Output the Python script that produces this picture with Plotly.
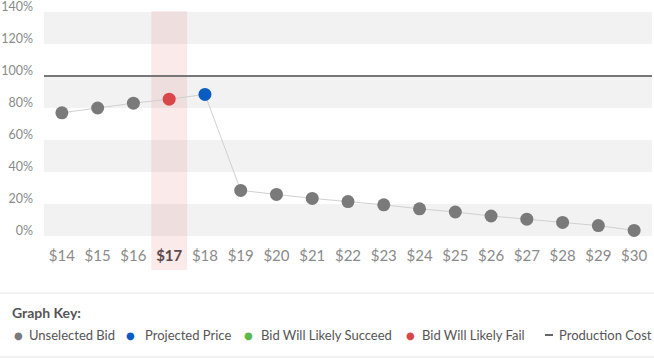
import plotly.graph_objects as go

# ---- data ----
bids = [14, 15, 16, 17, 18, 19, 20, 21, 22, 23, 24, 25, 26, 27, 28, 29, 30]
win_pct = [77, 80, 83, 85.5, 88.5, 28.5, 26, 23.5, 21.5, 19.5, 17, 15, 12.5, 10.5, 8.5, 6.5, 3.5]
point_kind = ["unselected", "unselected", "unselected", "fail", "projected"] + ["unselected"] * 12
selected_bid = 17
production_cost = 100
y_ticks = [0, 20, 40, 60, 80, 100, 120, 140]
legend_labels = ["Unselected Bid", "Projected Price", "Bid Will Likely Succeed", "Bid Will Likely Fail", "Production Cost"]

kind_color = {"unselected": "#7a7a7a", "projected": "#0a5cc2", "succeed": "#5bb84a", "fail": "#d9474a"}

FONT = "Lato"
W, H = 654, 358
L, R, T, B = 44, 2, 12, 122
PW, PH = W - L - R, H - T - B


def px(x):
    return (x - L) / PW


def py(y):
    return (H - B - y) / PH


fig = go.Figure()
fig.add_trace(go.Scatter(
    x=bids, y=win_pct, mode="lines+markers",
    line=dict(color="#d0d0d0", width=1),
    marker=dict(size=13, color=[kind_color[k] for k in point_kind]),
    hoverinfo="skip", showlegend=False, cliponaxis=False,
))

shapes = []
for lo in range(0, 140, 40):
    shapes.append(dict(type="rect", xref="paper", yref="y", x0=0, x1=1, y0=lo, y1=lo + 20,
                       fillcolor="#f2f2f2", line=dict(width=0), layer="below"))
shapes.append(dict(type="rect", xref="x", yref="paper", x0=selected_bid - 0.5, x1=selected_bid + 0.5,
                   y0=py(270), y1=py(11), fillcolor="rgba(220,80,80,0.12)", line=dict(width=0), layer="below"))
shapes.append(dict(type="line", xref="paper", yref="y", x0=0, x1=1, y0=production_cost, y1=production_cost,
                   line=dict(color="#777777", width=2)))
# key separators
for yy in (293, 357):
    shapes.append(dict(type="line", xref="paper", yref="paper", x0=px(0), x1=px(W), y0=py(yy), y1=py(yy),
                       line=dict(color="#e6e6e6", width=1)))

annotations = [dict(text="<b>Graph Key:</b>", xref="paper", yref="paper", x=px(10), y=py(312),
                    xanchor="left", yanchor="middle", showarrow=False,
                    font=dict(family=FONT, size=14, color="#555555"))]

key_colors = [kind_color["unselected"], kind_color["projected"], kind_color["succeed"], kind_color["fail"], None]
marker_x = [18, 130, 248, 410, 549]
text_x = [30, 146, 262, 423, 560]
for lab, col, mx, tx in zip(legend_labels, key_colors, marker_x, text_x):
    if col is not None:
        annotations.append(dict(text="●", xref="paper", yref="paper", x=px(mx), y=py(335),
                                xanchor="center", yanchor="middle", showarrow=False,
                                font=dict(family="DejaVu Sans", size=10, color=col)))
    else:
        shapes.append(dict(type="line", xref="paper", yref="paper", x0=px(mx - 4), x1=px(mx + 4),
                           y0=py(335), y1=py(335), line=dict(color="#666666", width=2)))
    annotations.append(dict(text=lab, xref="paper", yref="paper", x=px(tx - 3), y=py(335),
                            xanchor="left", yanchor="middle", showarrow=False,
                            font=dict(family=FONT, size=13, color="#555555")))

tick_text = [f"<span style='color:#5c4949'><b>${b}</b></span>" if b == selected_bid else f"${b}" for b in bids]

fig.update_layout(
    width=W, height=H, margin=dict(l=L, r=R, t=T, b=B, autoexpand=False),
    plot_bgcolor="white", paper_bgcolor="white",
    font=dict(family=FONT, color="#8a8a8a", size=13),
    shapes=shapes, annotations=annotations,
    xaxis=dict(range=[bids[0] - 0.5, bids[-1] + 0.5], tickvals=bids, ticktext=tick_text,
               showgrid=False, zeroline=False, showline=False, ticks="", automargin=False,
               tickfont=dict(size=15, color="#8a8a8a"), ticklabelstandoff=9, fixedrange=True),
    yaxis=dict(range=[0, 140], tickvals=y_ticks, ticktext=[f"{v}%" for v in y_ticks],
               showgrid=False, zeroline=False, showline=False, ticks="", automargin=False,
               tickfont=dict(size=12.5, color="#8a8a8a"), ticklabelstandoff=10, ticklabelshift=-5,
               ticklabeloverflow="allow", fixedrange=True),
)

fig.write_html("out.html", config={"displayModeBar": False},
               post_script="document.body.style.margin='0';document.body.style.overflow='hidden';")
